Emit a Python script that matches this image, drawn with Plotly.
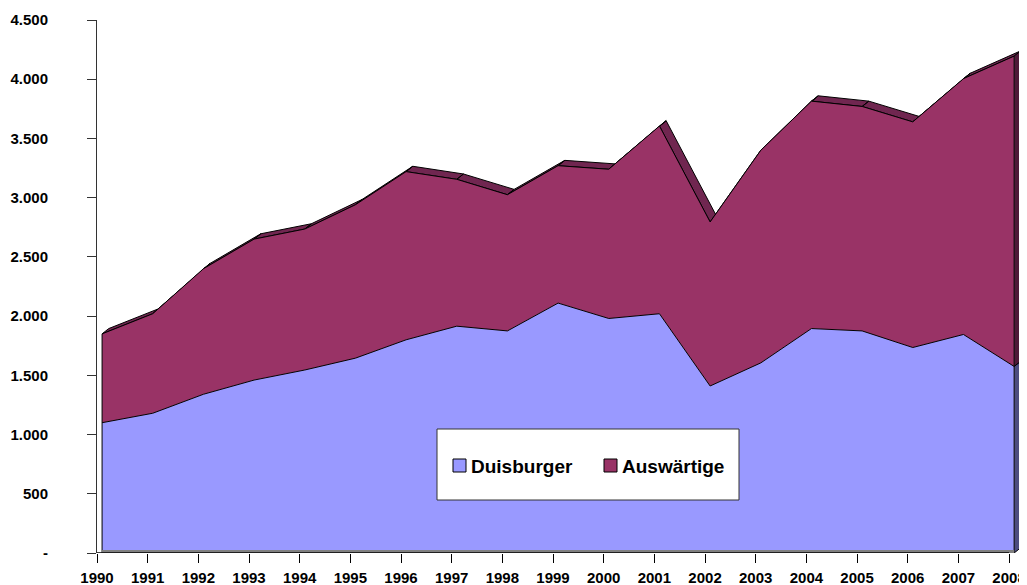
import numpy as np
import plotly.graph_objects as go

# Werte
years = list(range(1990, 2009))
duisburger = [1100, 1180, 1340, 1460, 1545, 1645, 1800, 1915, 1875, 2110,
              1980, 2020, 1410, 1605, 1895, 1875, 1735, 1845, 1575]
auswaertige = [750, 840, 1060, 1190, 1190, 1295, 1420, 1240, 1150, 1160,
               1260, 1585, 1385, 1795, 1920, 1895, 1905, 2160, 2620]
y_ticks = list(range(0, 4501, 500))

total = np.array(duisburger) + np.array(auswaertige)

# Farben (Excel-Palette)
col_duis = '#9999FF'
col_ausw = '#993366'
col_band = '#702650'
col_wall_top = '#4F1A38'
col_wall_low = '#4D4D80'

# 3D-Effekt: Tiefe nach rechts oben
DX = 0.132
DY = 45
OFF = 0.1      # Achsenstriche liegen etwas links der Vorderflaeche
FLOOR = 25

# Seite hat 8px Rand (body margin) -> Figur etwas kleiner
PAGE = 8
FW, FH = 1027 - PAGE, 585 - PAGE
# Plotfläche in Fensterpixeln
PL, PR, PT, PB = 97, 1022, 20, 553
W = PR - PL
H = PB - PT
PX_PER_YEAR = 50.67


def pxx(p):
    return (p - PL) / W


def pxy(p):
    return (PB - p) / H


fig = go.Figure()

# Oberseite des Bandes (pro Segment ein Viereck)
bx, by = [], []
for i in range(len(years) - 1):
    bx += [years[i], years[i + 1], years[i + 1] + DX, years[i] + DX, years[i], None]
    by += [total[i], total[i + 1], total[i + 1] + DY, total[i] + DY, total[i], None]
fig.add_trace(go.Scatter(
    x=bx, y=by, mode='lines', fill='toself', fillcolor=col_band,
    line=dict(color='black', width=1), hoverinfo='skip', showlegend=False
))

# Vorderflächen
fig.add_trace(go.Scatter(
    x=years, y=duisburger, name='Duisburger', mode='lines', stackgroup='one',
    fillcolor=col_duis, line=dict(color='black', width=1), showlegend=False
))
fig.add_trace(go.Scatter(
    x=years, y=auswaertige, name='Auswärtige', mode='lines', stackgroup='one',
    fillcolor=col_ausw, line=dict(color='black', width=1), showlegend=False
))

# rechte Seitenwand bei 2008
xe = years[-1]
fig.add_trace(go.Scatter(
    x=[xe, xe, xe + DX, xe + DX, xe],
    y=[0, duisburger[-1], duisburger[-1] + DY, DY, 0],
    mode='lines', fill='toself', fillcolor=col_wall_low,
    line=dict(color='black', width=1), hoverinfo='skip', showlegend=False
))
fig.add_trace(go.Scatter(
    x=[xe, xe, xe + DX, xe + DX, xe],
    y=[duisburger[-1], total[-1], total[-1] + DY, duisburger[-1] + DY, duisburger[-1]],
    mode='lines', fill='toself', fillcolor=col_wall_top,
    line=dict(color='black', width=1), hoverinfo='skip', showlegend=False
))

# linke Kante
fig.add_trace(go.Scatter(
    x=[years[0], years[0]], y=[0, total[0]], mode='lines',
    line=dict(color='black', width=1), hoverinfo='skip', showlegend=False
))

# Boden
fig.add_trace(go.Scatter(
    x=[years[0], xe, xe, years[0], years[0]], y=[0, 0, FLOOR, FLOOR, 0],
    mode='lines', fill='toself', fillcolor='#808080',
    line=dict(color='#808080', width=0), hoverinfo='skip', showlegend=False
))

# x-Achsenlinie
fig.add_shape(type='line', xref='x', yref='y',
              x0=years[0] - OFF, x1=years[-1] - OFF, y0=0, y1=0,
              line=dict(color='black', width=1.5))

# Legende (eigener Kasten)
fig.add_shape(type='rect', xref='paper', yref='paper',
              x0=pxx(437), x1=pxx(739), y0=pxy(500), y1=pxy(429),
              fillcolor='white', line=dict(color='#333333', width=1))
for sx, color in [(453, col_duis), (604, col_ausw)]:
    fig.add_shape(type='rect', xref='paper', yref='paper',
                  x0=pxx(sx), x1=pxx(sx + 13), y0=pxy(472), y1=pxy(459),
                  fillcolor=color, line=dict(color='black', width=1))
for tx, label in [(469, 'Duisburger'), (620, 'Auswärtige')]:
    fig.add_annotation(x=pxx(tx), y=pxy(466), xref='paper', yref='paper',
                       text=label, showarrow=False, xanchor='left', yanchor='middle',
                       font=dict(family='Liberation Sans, Arial, sans-serif',
                                 size=19, color='black', weight='bold'))

y_text = ['-' if v == 0 else f'{v:,}'.replace(',', '.') for v in y_ticks]

fig.update_layout(
    width=FW, height=FH,
    margin=dict(l=PL - PAGE, r=FW - (PR - PAGE), t=PT - PAGE,
                b=FH - (PB - PAGE), autoexpand=False),
    plot_bgcolor='white', paper_bgcolor='white',
    font=dict(family='Liberation Sans, Arial, sans-serif', size=15,
              color='black', weight='bold'),
    showlegend=False
)

fig.update_xaxes(
    range=[years[0] - OFF, years[0] - OFF + W / PX_PER_YEAR],
    tickmode='array',
    tickvals=[yr - OFF for yr in years],
    ticktext=[str(yr) for yr in years],
    ticks='outside', ticklen=9, tickcolor='black', tickwidth=1,
    ticklabelstandoff=2, automargin=False,
    showline=False, showgrid=False, zeroline=False
)
fig.update_yaxes(
    range=[0, 4500],
    tickmode='array', tickvals=y_ticks, ticktext=y_text,
    ticks='outside', ticklen=9, tickcolor='#333333', tickwidth=1,
    ticklabelstandoff=36, automargin=False,
    showline=True, linecolor='#333333', linewidth=1,
    showgrid=False, zeroline=False
)

fig.write_html('out.html')
